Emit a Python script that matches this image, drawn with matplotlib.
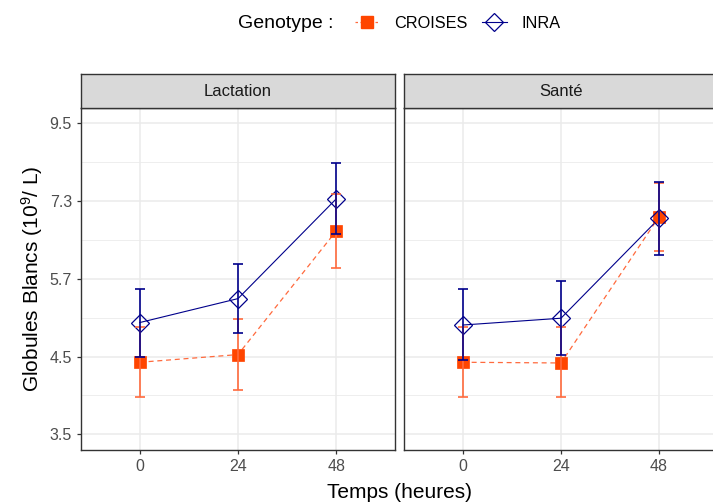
import matplotlib
matplotlib.use('Agg')
import matplotlib.pyplot as plt
import numpy as np
from matplotlib.lines import Line2D
from matplotlib.ticker import FixedLocator, NullFormatter

plt.rcParams['font.family'] = ['Liberation Sans', 'DejaVu Sans']
plt.rcParams['mathtext.fontset'] = 'custom'
plt.rcParams['mathtext.rm'] = 'Liberation Sans'
plt.rcParams['mathtext.it'] = 'Liberation Sans:italic'

# data (globules blancs, 10^9/L)
temps = [0, 24, 48]
panels = ['Lactation', 'Santé']

lact_croises = [4.40, 4.51, 6.71]
lact_croises_lo = [3.93, 4.03, 5.96]
lact_croises_hi = [4.93, 5.05, 7.55]
lact_inra = [5.00, 5.40, 7.44]
lact_inra_lo = [4.48, 4.83, 6.64]
lact_inra_hi = [5.57, 6.04, 8.34]

sante_croises = [4.40, 4.39, 7.03]
sante_croises_lo = [3.93, 3.93, 6.30]
sante_croises_hi = [4.93, 4.93, 7.84]
sante_inra = [4.96, 5.07, 6.99]
sante_inra_lo = [4.43, 4.50, 6.21]
sante_inra_hi = [5.57, 5.71, 7.86]

ytick_vals = [3.49, 4.48, 5.75, 7.39, 9.49]
ytick_labels = ['3.5', '4.5', '5.7', '7.3', '9.5']

data = {
    'Lactation': {'CROISES': (lact_croises, lact_croises_lo, lact_croises_hi),
                  'INRA': (lact_inra, lact_inra_lo, lact_inra_hi)},
    'Santé': {'CROISES': (sante_croises, sante_croises_lo, sante_croises_hi),
              'INRA': (sante_inra, sante_inra_lo, sante_inra_hi)},
}

orange = '#FF4500'
orange_lt = '#FF6A3D'
blue = '#00008B'

W, H = 713, 504
fig = plt.figure(figsize=(W / 100, H / 100), dpi=100)


def fx(px):
    return px / W


def fy(py):
    return 1 - py / H


panel_left = [81, 404]
panel_w = 314
top, bottom, strip_top = 108.3, 450, 74

minor_vals = [np.sqrt(a * b) for a, b in zip(ytick_vals[:-1], ytick_vals[1:])]

for i, name in enumerate(panels):
    ax = fig.add_axes([fx(panel_left[i]), fy(bottom), panel_w / W, (bottom - top) / H])
    ax.set_yscale('log')
    ax.set_ylim(3.318, 9.96)
    ax.set_xlim(-14.4, 62.4)
    ax.yaxis.set_major_locator(FixedLocator(ytick_vals))
    ax.yaxis.set_minor_locator(FixedLocator(minor_vals))
    ax.yaxis.set_minor_formatter(NullFormatter())
    ax.set_yticklabels(ytick_labels)
    ax.set_xticks(temps)
    ax.set_xticklabels([str(t) for t in temps])
    ax.set_axisbelow(True)
    ax.grid(which='major', color='#EBEBEB', lw=1.1)
    ax.grid(which='minor', axis='y', color='#EBEBEB', lw=0.6)
    for sp in ax.spines.values():
        sp.set_color('#333333')
        sp.set_linewidth(1.0)
    ax.tick_params(which='major', length=3, width=0.9, color='#333333',
                   labelcolor='#4D4D4D', labelsize=11.5, pad=3.5)
    ax.tick_params(which='minor', length=0)
    if i > 0:
        ax.tick_params(axis='y', length=0, labelleft=False)

    c, c_lo, c_hi = data[name]['CROISES']
    n, n_lo, n_hi = data[name]['INRA']
    ax.plot(temps, c, color=orange_lt, lw=0.9, ls=(0, (4, 3)), zorder=2)
    ax.plot(temps, n, color=blue, lw=0.8, zorder=2)
    ax.plot(temps, c, ls='none', marker='s', ms=8.5, mfc=orange, mec=orange, mew=0.5, zorder=3)
    ax.plot(temps, n, ls='none', marker='D', ms=9, mfc='none', mec=blue, mew=0.9, zorder=4)
    ax.errorbar(temps, c, yerr=[np.array(c) - np.array(c_lo), np.array(c_hi) - np.array(c)],
                fmt='none', ecolor=orange_lt, elinewidth=1.2, capsize=3.6, capthick=1.2, zorder=5)
    ax.errorbar(temps, n, yerr=[np.array(n) - np.array(n_lo), np.array(n_hi) - np.array(n)],
                fmt='none', ecolor=blue, elinewidth=1.2, capsize=3.6, capthick=1.2, zorder=6)

    sax = fig.add_axes([fx(panel_left[i]), fy(top), panel_w / W, (top - strip_top) / H])
    sax.set_facecolor('#D9D9D9')
    sax.set_xticks([])
    sax.set_yticks([])
    for sp in sax.spines.values():
        sp.set_color('#333333')
        sp.set_linewidth(1.0)
    sax.text(0.5, 0.5, name, ha='center', va='center', fontsize=12, color='#1A1A1A',
             transform=sax.transAxes)

fig.text(fx(32), fy(279), r'Globules Blancs (10$^{9}$/ L)', rotation=90,
         ha='center', va='center', fontsize=15)
fig.text(fx(399.5), fy(497.5), 'Temps (heures)', ha='center', va='baseline', fontsize=15)

# legend
fig.text(fx(238), fy(23), 'Genotype :', ha='left', va='center', fontsize=14)
handles = [
    Line2D([], [], color=orange_lt, lw=0.9, ls=(0, (2, 2)), marker='s', ms=8.5,
           mfc=orange, mec=orange),
    Line2D([], [], color=blue, lw=0.8, marker='D', ms=9, mfc='none', mec=blue, mew=0.9),
]
fig.legend(handles, ['CROISES', 'INRA'], loc='center left', bbox_to_anchor=(fx(354.5), fy(23)),
           ncol=2, frameon=False, fontsize=11.7, handlelength=1.55, handletextpad=0.9,
           columnspacing=0.85, borderpad=0, borderaxespad=0)

fig.savefig('out.png', dpi=100, facecolor='white')
